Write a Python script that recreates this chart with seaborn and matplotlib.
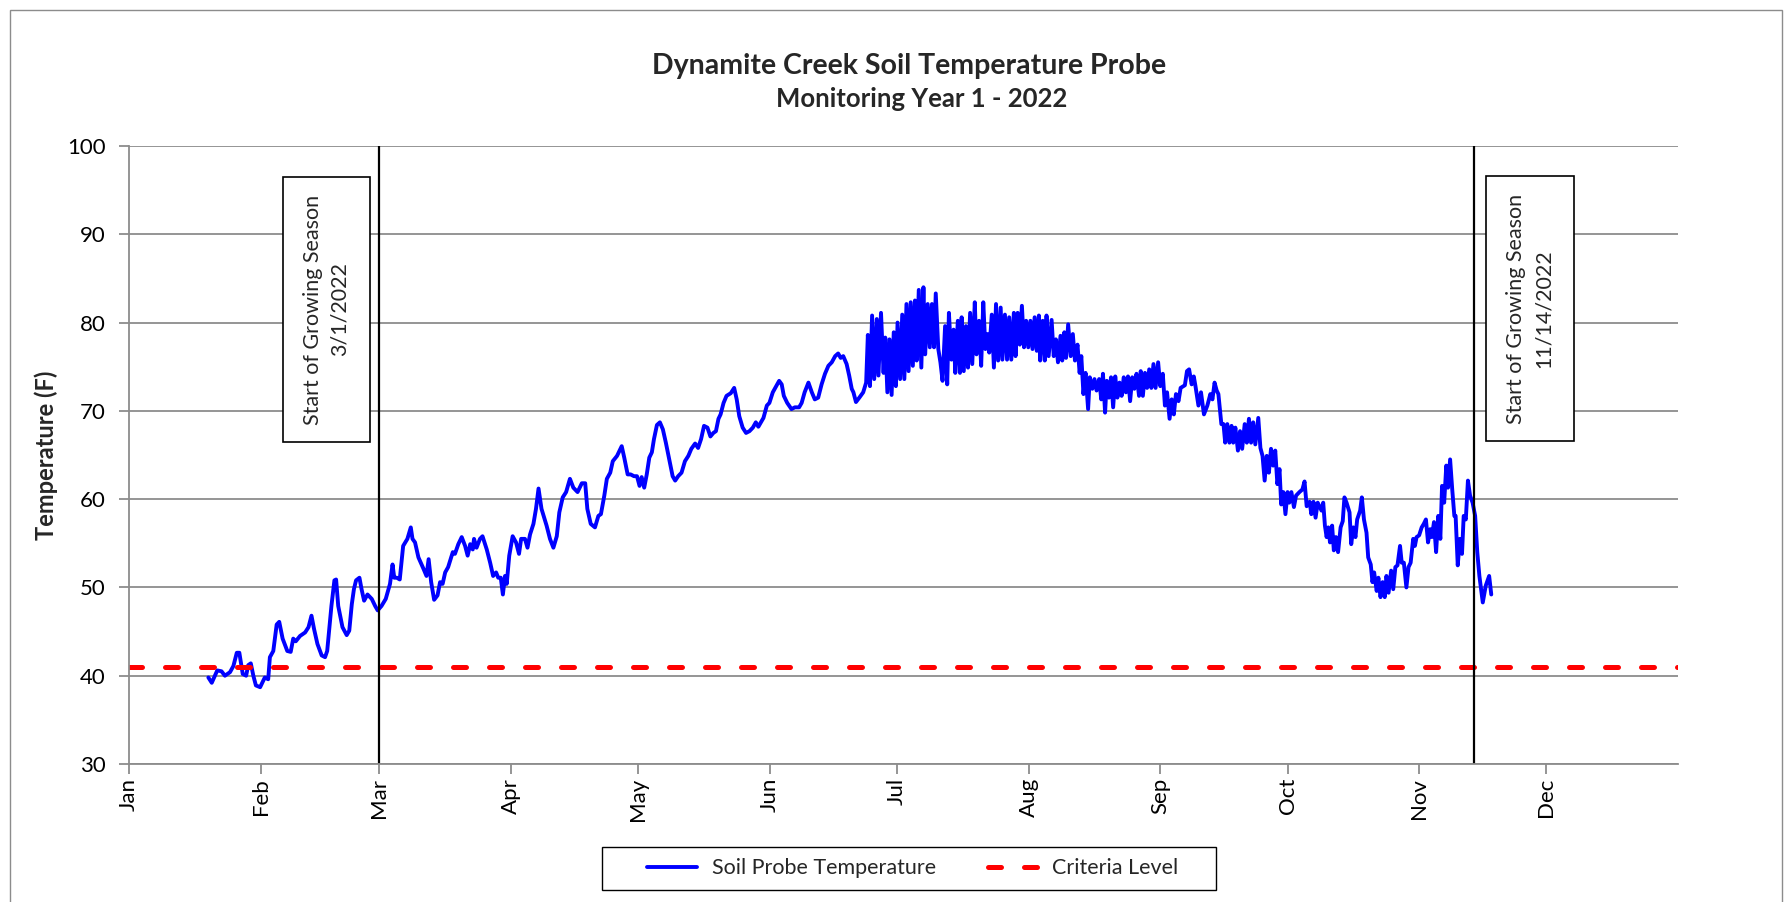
import matplotlib

matplotlib.use("Agg")
import matplotlib.dates as mdates
import matplotlib.patches as patches
import matplotlib.pyplot as plt
import pandas as pd
import seaborn as sns

# day of year (0 = Jan 1 2022) and probe reading (F)
days = [
    18.7, 19.5, 20.8, 21.8, 22.6, 23.8, 24.6, 25.4, 26.0, 26.8, 27.6, 28.1, 28.7, 29.3, 29.9,
    30.9, 32.0, 32.8, 33.2, 34.0, 34.8, 35.4, 36.2, 37.3, 38.1, 38.7, 39.3, 40.3, 41.5, 42.3,
    43.0, 43.6, 44.4, 45.4, 46.2, 46.7, 47.7, 48.4, 48.8, 49.3, 50.3, 51.3, 51.9, 52.5, 53.0,
    53.5, 54.3, 54.8, 55.4, 56.2, 57.2, 58.0, 58.6, 59.5, 60.5, 61.5, 62.1, 62.5, 63.1, 63.8,
    64.6, 65.6, 66.4, 66.8, 67.4, 68.2, 69.4, 70.1, 70.6, 71.2, 71.9, 72.7, 73.3, 73.9, 74.5,
    75.2, 76.3, 76.8, 77.6, 78.4, 79.2, 79.8, 80.4, 81.0, 81.3, 81.9, 82.7,
    83.3, 84.3, 85.1, 85.8, 86.5, 87.0, 87.6, 88.1, 88.6, 89.0, 89.6, 90.4, 91.2, 91.9, 92.4,
    93.3, 93.9, 94.5, 95.3, 95.9, 96.5, 97.2, 98.4, 99.2, 100.0, 100.8, 101.4, 102.2, 103.0,
    103.9, 104.7, 105.7, 106.7, 107.5, 108.0, 108.8, 109.8, 110.6, 111.2, 112.0, 112.6, 113.4,
    114.0, 115.0, 116.1, 116.7, 117.5, 118.2, 119.0, 119.7, 120.3, 120.8, 121.4, 122.0, 122.6,
    123.2, 123.7, 124.4, 125.1, 125.8, 126.5, 127.3, 128.1, 128.7, 129.4, 130.2, 131.0, 131.8,
    132.5, 133.4, 134.1, 134.8, 135.5, 136.3, 137.0, 137.7, 138.3, 138.9, 139.4, 140.1, 140.8,
    141.8, 142.6, 143.2, 143.8, 144.6, 145.4, 146.2, 147.0, 147.7, 148.3,
    149.5, 150.3, 150.9, 151.7, 152.5, 153.2, 153.8, 154.3, 155.1, 156.1, 156.9, 157.9, 158.5,
    159.2, 160.1, 160.9, 161.6, 162.4, 163.2, 164.0, 164.8, 165.6, 166.4, 167.1, 167.7, 168.3,
    169.1, 169.7, 170.3, 170.7, 171.3, 172.1, 173.0, 173.7,
    174.1, 174.6, 175.1, 175.6, 176.2, 176.6, 177.2, 177.8, 178.2, 178.7, 179.2, 179.7, 180.2,
    180.7, 181.1, 181.7, 182.2, 182.7, 183.2, 183.7, 184.2, 184.7, 185.2, 185.6, 186.1, 186.7,
    187.2, 187.6, 188.2, 188.7, 189.2, 189.7, 190.1, 190.7, 191.2, 191.7, 192.3, 192.8, 193.2,
    193.8, 194.3, 194.7, 195.3, 195.8, 196.2, 196.7, 197.2, 197.7, 198.2, 198.7, 199.3, 199.7,
    200.3, 200.8, 201.3, 201.8, 202.3, 202.7, 203.3, 203.8, 204.3, 204.8, 205.4, 205.8, 206.4,
    206.9, 207.4, 207.9, 208.5, 208.9, 209.4, 209.9, 210.4, 210.9, 211.4, 211.9, 212.4, 212.9,
    213.4, 213.9, 214.4,
    214.7, 215.3, 215.8, 216.2, 216.7, 217.4, 217.9, 218.4, 218.9, 219.5, 219.9, 220.4, 220.8,
    221.3, 221.9, 222.4, 222.9, 223.5, 224.0, 224.4, 224.9, 225.4, 226.0, 226.4, 227.0, 227.5,
    228.0, 228.6, 229.1, 229.5, 230.0, 230.4, 230.9, 231.4, 231.9, 232.4, 232.9, 233.4, 233.9,
    234.4, 234.9, 235.4, 235.9, 236.4, 236.9, 237.4, 238.0, 238.4, 238.9, 239.4, 239.9, 240.4,
    240.9, 241.4, 241.9, 242.5, 243.0, 243.6, 244.1, 244.6, 245.2, 245.7, 246.2, 246.7, 247.3,
    247.8, 248.8, 249.3, 249.8, 250.4, 250.9, 251.3, 252.0, 252.6, 253.3, 254.1, 254.8, 255.3,
    255.8, 256.3, 256.7, 257.4, 257.9, 258.3, 258.8, 259.3, 259.8, 260.2, 260.7, 261.3, 261.8,
    262.3, 262.9, 263.4, 263.9, 264.4, 264.9, 265.4, 266.1, 266.6, 267.1, 267.6, 268.1, 268.6,
    269.1, 269.6, 270.1, 270.6, 271.1, 271.5, 272.0, 272.5, 273.0, 273.4, 273.9, 274.5, 275.0,
    275.8, 276.5, 277.0, 277.5, 278.2, 278.6, 279.1, 279.6, 280.1,
    281.0, 281.4, 281.8, 282.2, 282.6, 283.0, 283.5, 283.9, 284.4, 284.9, 285.5, 286.0, 286.4,
    286.9, 287.6, 288.0, 288.5, 289.0, 289.4, 290.1, 290.5, 291.0, 291.6, 292.0, 292.6, 293.0,
    293.4, 294.0, 294.4, 294.9, 295.4, 295.9, 296.3, 296.8, 297.4, 297.9, 298.4, 298.9, 299.5,
    299.9, 300.4, 301.0, 301.5, 302.0, 302.6, 303.0, 303.4, 304.0, 304.6, 305.1, 305.6, 306.1,
    306.6, 307.0, 307.5, 308.0, 308.5, 309.0, 309.4, 309.9, 310.4, 310.8, 311.3, 311.8, 312.3,
    312.6, 313.1, 313.6, 314.1, 314.5, 315.0, 315.5, 316.0, 316.6, 317.2, 317.7, 318.2, 319.0,
    319.7, 320.5, 321.0,
]
temps = [
    39.8, 39.2, 40.6, 40.5, 40.0, 40.4, 41.1, 42.6, 42.6, 40.2, 40.0, 41.2, 41.4, 40.0, 38.9,
    38.7, 39.8, 39.6, 42.1, 42.8, 45.8, 46.1, 44.2, 42.8, 42.7, 44.2, 43.9, 44.5, 44.9, 45.5,
    46.8, 45.3, 43.6, 42.3, 42.1, 42.8, 47.9, 50.8, 50.9, 47.9, 45.5, 44.6, 45.1, 48.1, 49.8,
    50.8, 51.1, 49.8, 48.5, 49.2, 48.7, 47.9, 47.4, 47.9, 48.7, 50.4, 52.6, 51.1, 51.1, 50.9,
    54.7, 55.5, 56.8, 55.5, 55.1, 53.4, 52.1, 51.3, 53.2, 50.6, 48.6, 49.1, 50.6, 50.4, 51.7,
    52.3, 54.0, 53.8, 54.9, 55.7, 54.7, 53.6, 54.9, 54.3, 55.5, 54.5, 55.5,
    55.8, 54.3, 52.8, 51.3, 51.7, 51.1, 51.1, 49.2, 51.3, 50.4, 53.6, 55.8, 55.1, 53.8, 55.5,
    55.5, 54.5, 56.0, 57.2, 58.9, 61.2, 58.9, 57.0, 55.5, 54.5, 55.8, 58.5, 60.2, 60.8,
    62.3, 61.3, 60.8, 61.8, 61.8, 58.9, 57.2, 56.8, 58.1, 58.3, 60.4, 62.3, 63.0,
    64.3, 64.9, 66.0, 64.7, 62.8, 62.8, 62.6, 62.6, 61.5, 62.5, 61.3, 62.8, 64.7,
    65.3, 66.8, 68.4, 68.7, 67.9, 66.4, 64.5, 62.6, 62.1, 62.6, 63.0, 64.3, 64.9,
    65.7, 66.3, 65.8, 66.8, 68.3, 68.1, 67.1, 67.5, 67.7, 69.1, 69.6, 70.9, 71.7,
    72.0, 72.6, 71.3, 69.4, 68.1, 67.5, 67.7, 68.1, 68.7, 68.2,
    69.2, 70.6, 70.9, 72.1, 72.8, 73.4, 73.0, 71.7, 70.9, 70.2, 70.4, 70.4, 70.9,
    72.1, 73.2, 72.1, 71.3, 71.5, 73.0, 74.2, 75.1, 75.5, 76.2, 76.5, 76.0, 76.2,
    75.3, 74.0, 72.5, 72.1, 71.0, 71.5, 72.1, 73.2,
    78.6, 72.8, 80.8, 73.6, 80.4, 74.0, 81.1, 74.3, 78.3, 72.1, 78.1, 71.8, 78.9,
    72.8, 80.0, 73.6, 80.9, 73.6, 82.1, 74.5, 82.3, 75.1, 82.5, 75.7, 83.7, 74.9,
    84.0, 76.4, 82.1, 77.2, 82.1, 77.2, 83.3, 77.0, 75.5, 73.4, 79.6, 73.0, 81.1,
    75.8, 79.2, 74.3, 80.2, 74.3, 80.6, 74.5, 79.6, 74.9, 81.1, 75.3, 82.3, 76.4,
    80.2, 75.1, 82.3, 77.0, 78.7, 76.6, 80.9, 74.9, 82.1, 75.7, 81.7, 75.8, 80.9,
    75.8, 80.6, 75.8, 81.1, 76.2, 81.1, 77.5, 81.9, 77.2, 80.2, 77.2, 80.2, 77.0,
    80.6, 76.8, 80.8,
    75.7, 80.2, 75.7, 80.8, 76.2, 80.3, 76.2, 78.1, 75.5, 78.5, 75.7, 78.9, 76.0,
    79.8, 76.2, 78.7, 75.7, 77.5, 74.3, 76.2, 71.9, 74.3, 70.2, 73.8, 72.5, 73.6,
    72.3, 73.6, 71.3, 74.2, 69.8, 73.4, 71.5, 73.8, 70.4, 73.9, 71.5, 73.2, 71.7,
    73.8, 72.1, 73.9, 71.1, 73.8, 72.5, 74.2, 71.7, 74.5, 71.7, 74.3, 72.6, 74.7,
    72.6, 75.3, 72.6, 75.5, 72.8, 74.2, 70.6, 72.1, 69.1, 71.3, 69.6, 71.9, 71.1,
    72.6, 72.9, 74.5, 74.7, 73.0, 73.9, 72.8, 70.6, 72.1, 69.6, 70.6, 71.9, 71.3,
    73.2, 72.3, 71.9, 68.5, 68.5, 66.4, 68.5, 66.4, 68.3, 66.4, 68.1, 65.5, 67.7,
    65.7, 68.5, 66.4, 69.1, 66.4, 68.7, 66.2, 69.2, 65.8, 64.9, 62.1, 64.9, 63.0,
    65.7, 63.8, 65.5, 61.7, 63.4, 59.4, 60.8, 58.3, 60.8, 59.6, 60.8, 59.1, 60.4,
    60.8, 61.1, 62.0, 59.2, 59.7, 58.3, 59.7, 57.9, 59.6,
    58.7, 59.6, 57.0, 55.7, 56.8, 55.1, 57.0, 54.2, 55.7, 54.0, 56.8, 57.5, 60.2,
    59.6, 58.5, 54.9, 56.8, 55.7, 57.7, 58.7, 60.2, 57.7, 56.2, 53.4, 52.6, 50.6,
    51.7, 49.6, 51.1, 48.9, 50.6, 48.9, 51.3, 49.4, 51.9, 49.8, 52.3, 52.5, 54.7,
    52.8, 52.8, 50.0, 52.3, 52.8, 55.5, 54.7, 55.7, 55.9, 56.8, 57.2, 57.7, 55.1,
    56.6, 55.7, 57.4, 54.0, 58.1, 55.5, 61.5, 59.6, 63.8, 61.3, 64.5, 61.1, 58.1,
    58.1, 52.5, 55.5, 53.8, 58.1, 57.7, 62.1, 60.4, 59.6, 58.1, 54.0, 51.3, 48.3,
    50.2, 51.3, 49.2,
]

CRITERIA_LEVEL = 41
season_dates = ["2022-03-01", "2022-11-14"]
season_labels = ["Start of Growing Season\n3/1/2022", "Start of Growing Season\n11/14/2022"]
month_ticks = pd.date_range("2022-01-01", periods=12, freq="MS")
y_ticks = list(range(30, 101, 10))

df = pd.DataFrame(
    {
        "date": pd.Timestamp("2022-01-01") + pd.to_timedelta(days, unit="D"),
        "temp": temps,
    }
)

sns.set_style("white")
plt.rcParams["font.family"] = ["Lato", "DejaVu Sans"]

W, H = 1790, 902
GRAY = "#8c8c8c"

fig = plt.figure(figsize=(W / 100, H / 100), dpi=100)
ax = fig.add_axes([129 / W, 1 - 764 / H, (1678 - 129) / W, (764 - 146) / H])

sns.lineplot(
    data=df, x="date", y="temp", ax=ax, color="#0000ff", lw=2.8,
    estimator=None, sort=False, label="Soil Probe Temperature",
)
ax.axhline(
    CRITERIA_LEVEL, color="#ff0000", lw=3.6, dashes=(2.6, 4.6),
    dash_capstyle="round", label="Criteria Level",
)
for d in season_dates:
    ax.axvline(pd.Timestamp(d), color="black", lw=1.6)

ax.set_xlim(pd.Timestamp("2022-01-01"), pd.Timestamp("2023-01-01"))
ax.set_ylim(30, 100)
ax.set_yticks(y_ticks)
ax.set_xticks(month_ticks)
ax.xaxis.set_major_formatter(mdates.DateFormatter("%b"))
plt.setp(ax.get_xticklabels(), rotation=90)

ax.yaxis.grid(True, color=GRAY, lw=1.3)
ax.set_axisbelow(True)
for side in ["top", "right"]:
    ax.spines[side].set_visible(False)
for side in ["left", "bottom"]:
    ax.spines[side].set_color(GRAY)
    ax.spines[side].set_linewidth(1.3)
ax.tick_params(axis="both", direction="out", length=7, width=1.3, color=GRAY,
               labelsize=16, labelcolor="black", left=True, bottom=True)
ax.tick_params(axis="y", pad=10)
ax.tick_params(axis="x", pad=3)

ax.set_xlabel("")
ax.set_ylabel("Temperature (F)", fontsize=17, fontweight="bold", labelpad=6)

# legend: frame drawn separately so it can be wider than its contents
handles, labels = ax.get_legend_handles_labels()
leg = ax.legend(
    handles, labels, loc="center", bbox_to_anchor=(913 / W, 1 - 868.5 / H),
    bbox_transform=fig.transFigure, ncol=2, frameon=False, fontsize=15.5,
    handlelength=2.3, handletextpad=0.7, columnspacing=2.4,
)
fig.add_artist(patches.Rectangle(
    (602 / W, 1 - 890 / H), (1216 - 602) / W, (890 - 847) / H,
    transform=fig.transFigure, fill=False, edgecolor="black", lw=1.0,
))

fig.text(909 / W, 1 - 66 / H, "Dynamite Creek Soil Temperature Probe",
         ha="center", va="center", fontsize=20.5, fontweight="bold")
fig.text(922 / W, 1 - 99 / H, "Monitoring Year 1 - 2022",
         ha="center", va="center", fontsize=18.5, fontweight="bold")

# annotation boxes next to the season lines
boxes = [(283, 177, 370, 442), (1486, 176, 1574, 441)]
for (x0, y0, x1, y1), txt in zip(boxes, season_labels):
    fig.add_artist(patches.Rectangle(
        (x0 / W, 1 - y1 / H), (x1 - x0) / W, (y1 - y0) / H,
        transform=fig.transFigure, facecolor="white", edgecolor="black", lw=1.2,
    ))
    fig.text((x0 + x1) / 2 / W, 1 - (y0 + y1) / 2 / H, txt, rotation=90,
             ha="center", va="center", multialignment="center", fontsize=15.5,
             linespacing=1.45)

# chart area border
fig.add_artist(patches.Rectangle(
    (10 / W, -0.05), (1782 - 10) / W, 1 - 10 / H + 0.05,
    transform=fig.transFigure, fill=False, edgecolor=GRAY, lw=1.0,
))

fig.savefig("out.png", dpi=100)
